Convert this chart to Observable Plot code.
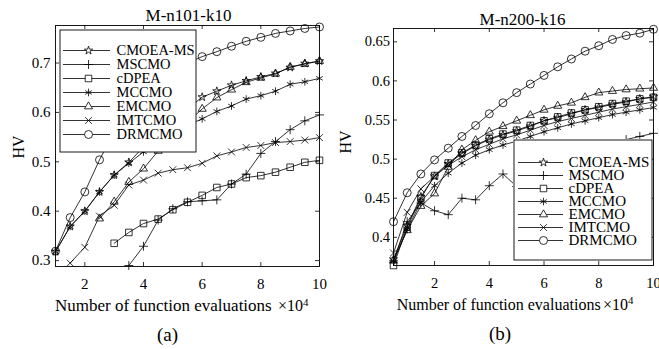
<!DOCTYPE html>
<html><head><meta charset="utf-8">
<script src="https://cdn.jsdelivr.net/npm/d3@7"></script>
<script src="https://cdn.jsdelivr.net/npm/@observablehq/plot@0.6"></script>
<style>
body{margin:0;background:#fff;}
#wrap{position:relative;width:659px;height:349px;color:#000;overflow:hidden;background:#fff}
.abs{position:absolute;white-space:nowrap;line-height:1;}
.abs sup{font-size:0.68em;vertical-align:0;position:relative;top:-0.5em}
svg{overflow:visible}
</style></head><body><div id="wrap"></div>
<script>
const seriesNames = ["CMOEA-MS","MSCMO","cDPEA","MCCMO","EMCMO","IMTCMO","DRMCMO"];
const seriesSymbols = ["star","plus","square","asterisk","triangle","times","circle"];
const markerR = [2.6, 3, 3.7, 3.6, 3, 3.2, 4];

// Panel (a): M-n101-k10
const xA = [1,1.5,2,2.5,3,3.5,4,4.5,5,5.5,6,6.5,7,7.5,8,8.5,9,9.5,10];
const aCMOEA  = [0.318,0.369,0.400,0.439,0.473,0.499,0.530,0.557,0.582,0.607,0.631,0.643,0.655,0.664,0.672,0.679,0.691,0.699,0.704];
const aMSCMO  = [null,null,null,null,null,0.290,0.329,0.382,0.405,0.419,0.421,0.423,0.455,0.475,0.517,0.541,0.565,0.583,0.595];
const aCDPEA  = [null,null,null,null,0.335,0.357,0.375,0.384,0.403,0.418,0.432,0.448,0.455,0.468,0.472,0.479,0.489,0.499,0.503];
const aMCCMO  = [0.318,0.369,0.400,0.439,0.473,0.497,0.520,0.540,0.558,0.574,0.587,0.602,0.613,0.627,0.634,0.643,0.657,0.662,0.669];
const aEMCMO  = [null,null,null,0.385,0.419,0.459,0.486,0.522,0.550,0.580,0.607,0.630,0.646,0.661,0.670,0.678,0.692,0.698,0.704];
const aIMTCMO = [null,0.295,0.327,0.390,0.412,0.453,0.463,0.477,0.484,0.488,0.497,0.512,0.520,0.529,0.533,0.539,0.541,0.544,0.549];
const aDRMCMO = [0.319,0.387,0.439,0.504,0.560,0.600,0.635,0.663,0.685,0.700,0.713,0.723,0.734,0.744,0.752,0.760,0.765,0.770,0.773];

// Panel (b): M-n200-k16
const xB = [0.5,1,1.5,2,2.5,3,3.5,4,4.5,5,5.5,6,6.5,7,7.5,8,8.5,9,9.5,10];
const bCMOEA  = [0.372,0.415,0.452,0.478,0.494,0.507,0.517,0.525,0.531,0.536,0.542,0.549,0.553,0.558,0.563,0.566,0.570,0.573,0.577,0.580];
const bMSCMO  = [0.370,0.420,0.444,0.434,0.429,0.450,0.448,0.466,0.481,0.465,0.470,0.478,0.486,0.494,0.502,0.510,0.518,0.525,0.529,0.533];
const bCDPEA  = [0.364,0.413,0.450,0.479,0.495,0.508,0.518,0.526,0.532,0.537,0.543,0.549,0.554,0.559,0.563,0.567,0.571,0.574,0.577,0.579];
const bMCCMO  = [0.370,0.410,0.445,0.466,0.482,0.495,0.505,0.512,0.518,0.523,0.529,0.535,0.540,0.545,0.549,0.553,0.557,0.560,0.563,0.566];
const bEMCMO  = [0.370,0.409,0.440,0.456,0.490,0.512,0.524,0.535,0.542,0.549,0.556,0.563,0.568,0.572,0.579,0.585,0.587,0.589,0.590,0.591];
const bIMTCMO = [0.380,0.432,0.462,0.478,0.492,0.503,0.512,0.519,0.526,0.531,0.537,0.543,0.548,0.552,0.556,0.560,0.564,0.567,0.570,0.573];
const bDRMCMO = [0.420,0.457,0.481,0.499,0.514,0.529,0.543,0.558,0.572,0.585,0.596,0.607,0.618,0.628,0.638,0.645,0.653,0.658,0.661,0.666];

const xTicksA = [2,4,6,8,10];
const yTicksA = [0.3,0.4,0.5,0.6,0.7];
const xTicksB = [2,4,6,8,10];
const yTicksB = [0.4,0.45,0.5,0.55,0.6,0.65];

const xDomainA = [1,10], yDomainA = [0.288,0.776];
const xDomainB = [0.5,10], yDomainB = [0.364,0.667];

// pick an installed Times-like serif font
function pickFont() {
  const c = document.createElement("canvas").getContext("2d");
  const probe = "Number of function evaluations MWmwil 0123456789";
  const cands = ["Liberation Serif", "Times New Roman", "Tinos", "Times", "Nimbus Roman", "Nimbus Roman No9 L", "FreeSerif", "TeX Gyre Termes"];
  for (const base of ["monospace", "sans-serif"]) {
    c.font = `40px ${base}`;
    const w0 = c.measureText(probe).width;
    for (const f of cands) {
      c.font = `40px "${f}", ${base}`;
      if (Math.abs(c.measureText(probe).width - w0) > 0.5) return `"${f}"`;
    }
  }
  return "serif";
}
const FONT = pickFont() + ", serif";
const wrap = document.getElementById("wrap");
wrap.style.fontFamily = FONT;

function toRows(xs, cols) {
  return seriesNames.flatMap((s, i) => xs.map((x, j) => ({s, x, y: cols[i][j]})).filter(d => d.y != null));
}

function panel(o) {
  const rows = toRows(o.xs, o.cols);
  const fw = o.width - o.ml - o.mr, fh = o.height - o.mt - o.mb;
  const p = Plot.plot({
    width: o.width, height: o.height,
    marginLeft: o.ml, marginRight: o.mr, marginTop: o.mt, marginBottom: o.mb,
    style: {fontFamily: FONT, color: "#000", background: "transparent", overflow: "visible"},
    x: {domain: o.xDomain, label: null},
    y: {domain: o.yDomain, label: null},
    symbol: {domain: seriesNames, range: seriesSymbols},
    marks: [
      Plot.line(rows, {x: "x", y: "y", z: "s", stroke: "#000", strokeWidth: 0.8}),
      ...seriesNames.map((s, i) => Plot.dot(rows.filter(d => d.s === s), {x: "x", y: "y", symbol: "s", r: markerR[i], stroke: "#000", fill: "none", strokeWidth: 0.8})),
      Plot.tickX(o.xTicks, {x: d => d, insetTop: fh - 4, stroke: "#000", strokeWidth: 0.8}),
      Plot.tickX(o.xTicks, {x: d => d, insetBottom: fh - 4, stroke: "#000", strokeWidth: 0.8}),
      Plot.tickY(o.yTicks, {y: d => d, insetRight: fw - 4, stroke: "#000", strokeWidth: 0.8}),
      Plot.tickY(o.yTicks, {y: d => d, insetLeft: fw - 4, stroke: "#000", strokeWidth: 0.8}),
      Plot.frame({stroke: "#000", strokeWidth: 0.9}),
      Plot.axisX({ticks: o.xTicks, tickSize: 0, tickPadding: o.xPad, tickFormat: d => String(d), fontSize: o.fs, label: null, fill: "#000"}),
      Plot.axisY({ticks: o.yTicks, tickSize: 0, tickPadding: o.yPad, tickFormat: d => String(d), fontSize: o.fs, label: null, fill: "#000"})
    ]
  });
  p.style.position = "absolute";
  p.style.left = o.left + "px";
  p.style.top = "0px";
  wrap.appendChild(p);
}

function legend(o) {
  const p = Plot.plot({
    width: o.w, height: o.h, margin: 0,
    style: {fontFamily: FONT, color: "#000", background: "#fff"},
    y: {type: "point", domain: seriesNames, range: o.range, axis: null},
    symbol: {domain: seriesNames, range: seriesSymbols},
    marks: [
      Plot.frame({stroke: "#000", strokeWidth: 0.9, inset: 0.5}),
      Plot.tickY(seriesNames, {y: d => d, insetLeft: o.lineL, insetRight: o.w - o.lineR, stroke: "#000", strokeWidth: 0.8}),
      ...seriesNames.map((s, i) => Plot.dot([s], {y: d => d, symbol: d => d, frameAnchor: "left", dx: o.dotX, r: markerR[i], stroke: "#000", fill: "#fff", strokeWidth: 0.8})),
      Plot.text(seriesNames, {y: d => d, text: d => d, frameAnchor: "left", dx: o.textX, textAnchor: "start", fontSize: o.fs, fill: "#000"})
    ]
  });
  p.style.position = "absolute";
  p.style.left = o.left + "px";
  p.style.top = o.top + "px";
  wrap.appendChild(p);
}

function label(html, x, baseline, fs, anchor, rotate) {
  const d = document.createElement("div");
  d.className = "abs";
  d.innerHTML = html;
  d.style.fontSize = fs + "px";
  if (rotate) {
    d.style.left = x + "px";
    d.style.top = baseline + "px";
    d.style.transform = "translate(-50%,-50%) rotate(-90deg)";
  } else {
    d.style.left = x + "px";
    d.style.top = (baseline - 0.8375 * fs) + "px";
    if (anchor === "middle") d.style.transform = "translateX(-50%)";
  }
  wrap.appendChild(d);
}

panel({xs: xA, cols: [aCMOEA,aMSCMO,aCDPEA,aMCCMO,aEMCMO,aIMTCMO,aDRMCMO],
  width: 330, height: 290, ml: 55, mr: 11, mt: 25, mb: 24, left: 0,
  xDomain: xDomainA, yDomain: yDomainA, xTicks: xTicksA, yTicks: yTicksA, fs: 15, xPad: 11.5, yPad: 5});
panel({xs: xB, cols: [bCMOEA,bMSCMO,bCDPEA,bMCCMO,bEMCMO,bIMTCMO,bDRMCMO],
  width: 329, height: 290, ml: 63, mr: 6, mt: 28, mb: 25, left: 330,
  xDomain: xDomainB, yDomain: yDomainB, xTicks: xTicksB, yTicks: yTicksB, fs: 14.5, xPad: 12, yPad: 3.5});

legend({left: 59, top: 29, w: 137, h: 123, range: [12.7, 112.7], lineL: 4, lineR: 51, dotX: 29, textX: 57, fs: 14.5});
legend({left: 513, top: 139, w: 139, h: 121, range: [13.4, 111], lineL: 5, lineR: 50, dotX: 30, textX: 55, fs: 15});

label("M-n101-k10", 188.5, 21.7, 17, "middle");
label("M-n200-k16", 522.5, 25, 17, "middle");
label("HV", 19, 147, 16, null, true);
label("HV", 345.8, 141.7, 16, null, true);
label("Number of function evaluations", 55, 311.7, 17, "start");
label("×10<sup>4</sup>", 278, 311.7, 16, "start");
label("Number of function evaluations", 396.7, 310, 16, "start");
label("×10<sup>4</sup>", 603, 310, 16, "start");
label("(a)", 167.5, 341, 19, "middle");
label("(b)", 500, 339.5, 19, "middle");
</script></body></html>
